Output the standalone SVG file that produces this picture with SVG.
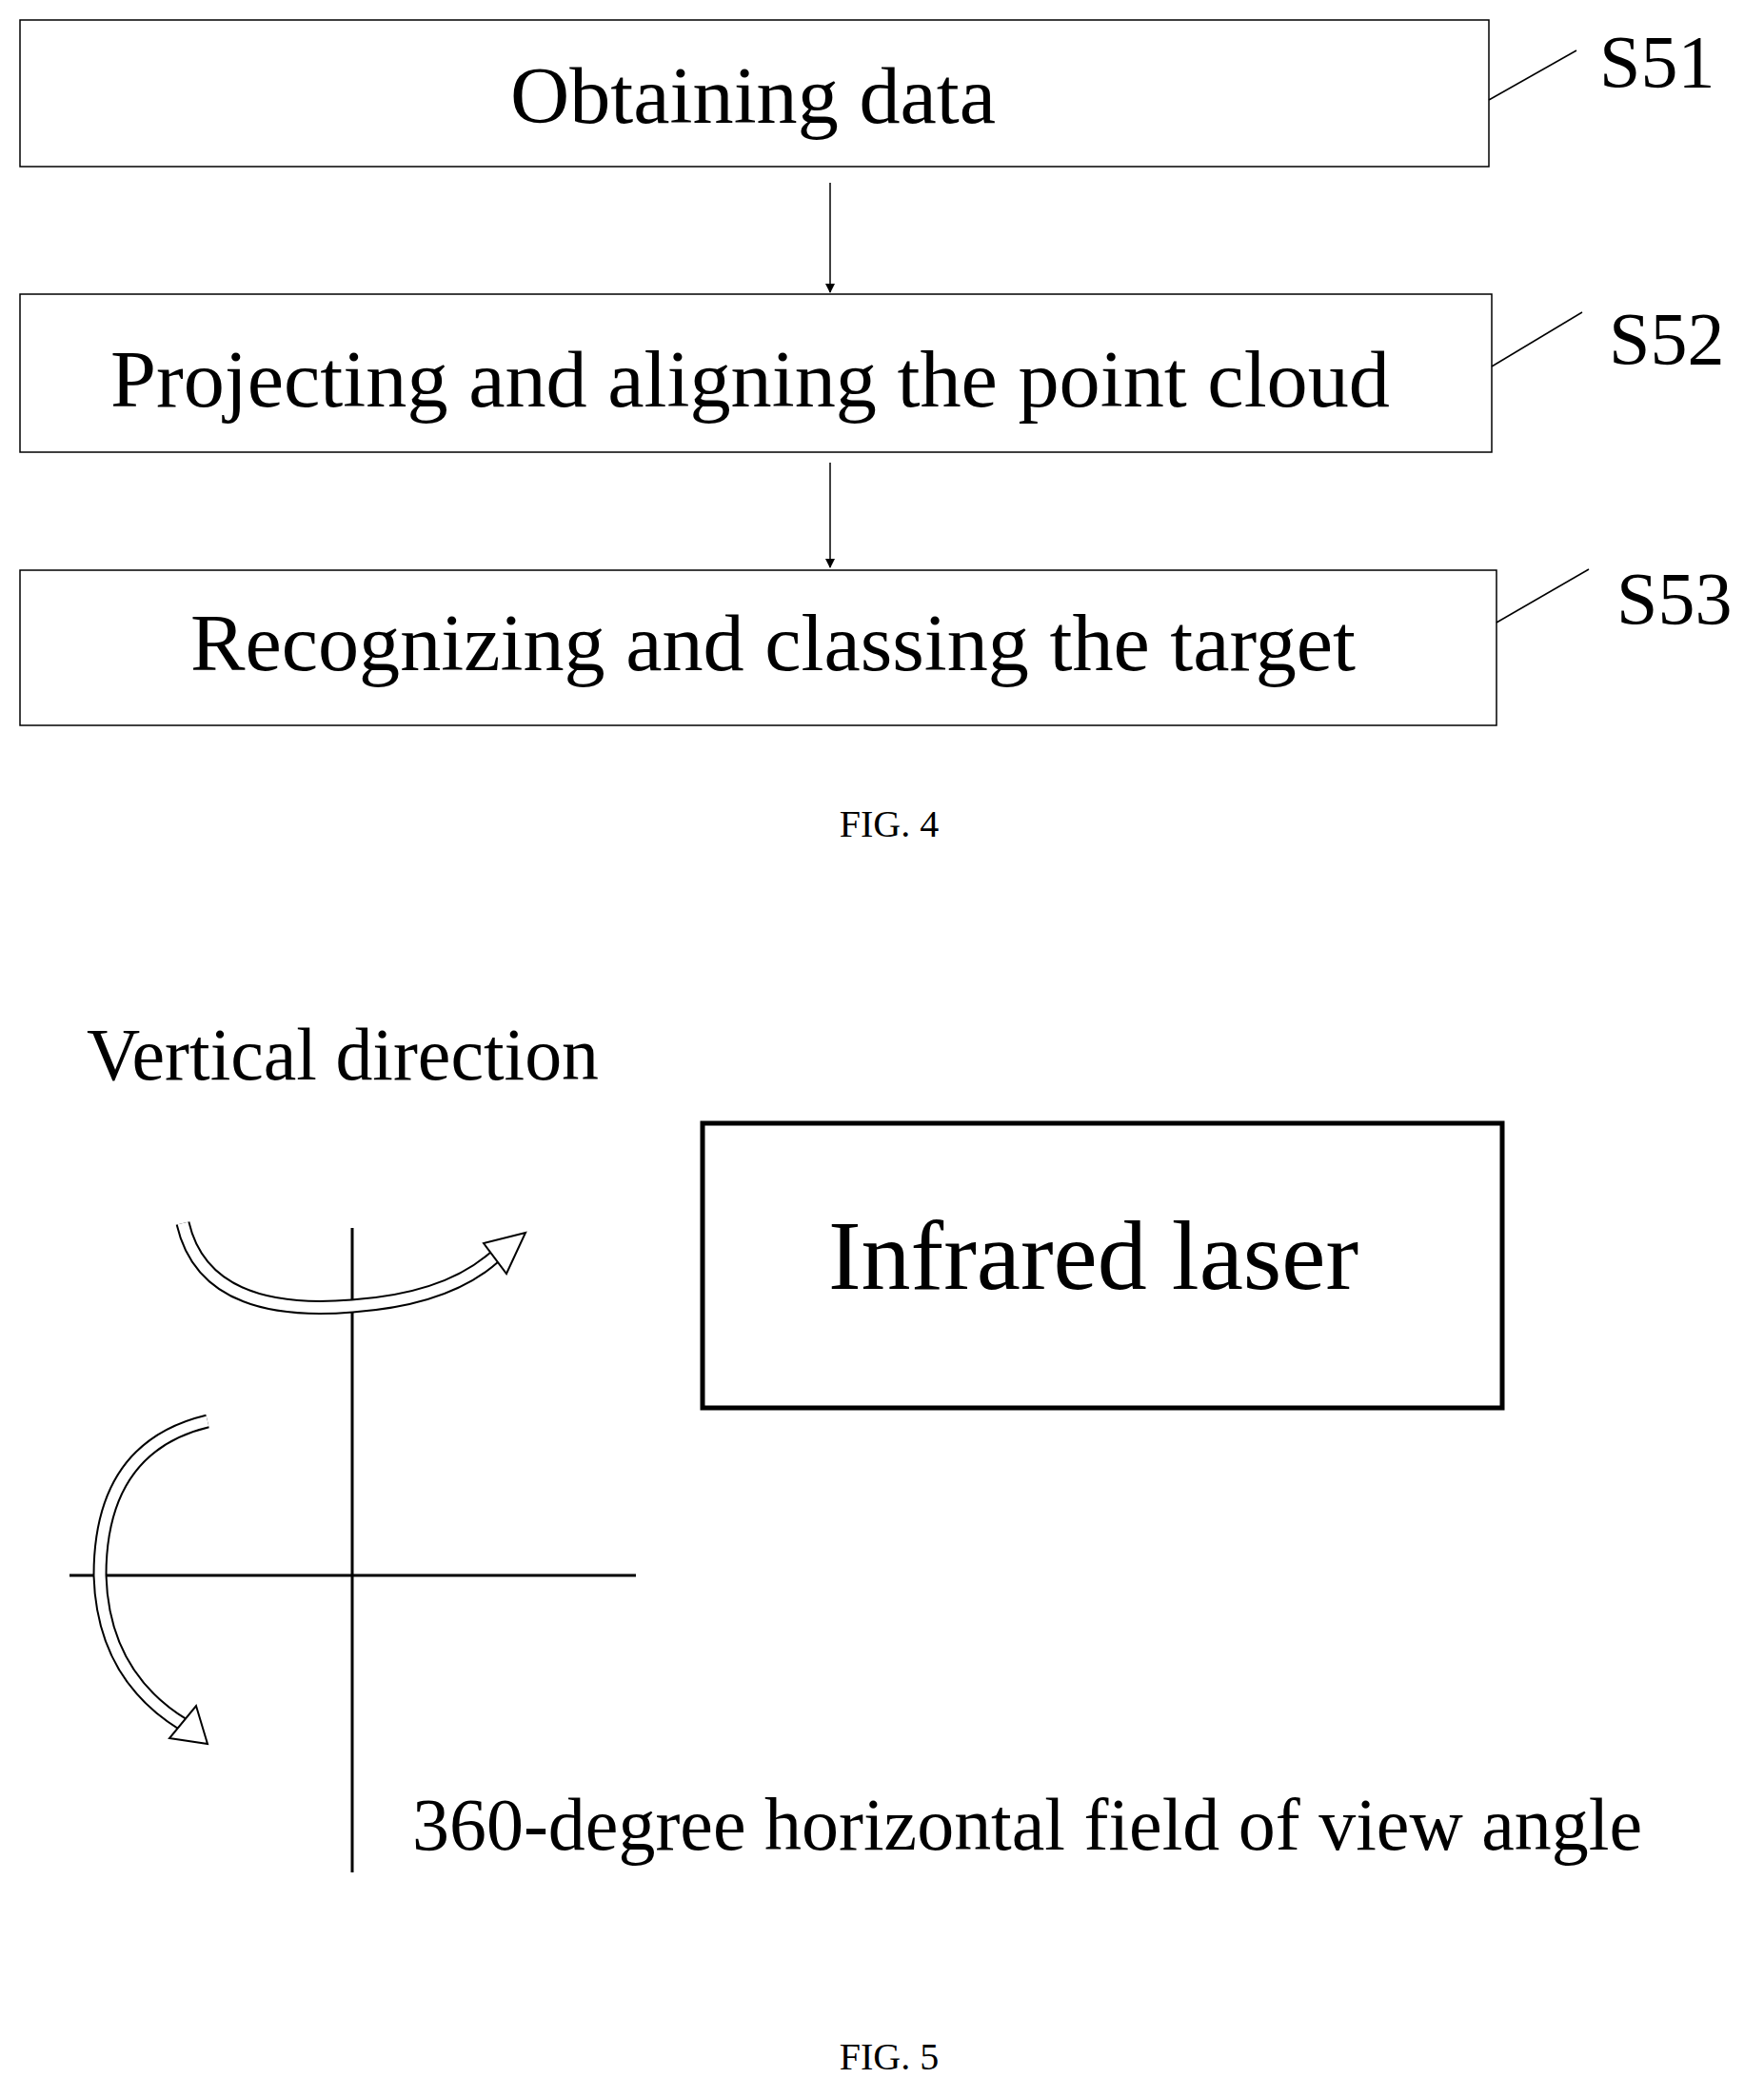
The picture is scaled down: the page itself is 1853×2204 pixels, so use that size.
<svg xmlns="http://www.w3.org/2000/svg" width="1853" height="2204" viewBox="0 0 1853 2204">
<style>
text{font-family:"Liberation Serif","Times New Roman",serif;fill:#000}
.box{fill:#fff;stroke:#000;stroke-width:1.5}
.lead{stroke:#000;stroke-width:1.5;fill:none}
.big{font-size:84px}
.lbl{font-size:78px}
.cap{font-size:40px;text-anchor:middle}
.ha{fill:none;stroke:#000;stroke-width:15}
.hi{fill:none;stroke:#fff;stroke-width:11}
.hh{fill:#fff;stroke:#000;stroke-width:2}
</style>
<defs><marker id="ah" markerWidth="10" markerHeight="10" refX="9" refY="5" orient="auto" markerUnits="userSpaceOnUse"><path d="M0,0 L10,5 L0,10 Z" fill="#000"/></marker></defs>
<rect width="1853" height="2204" fill="#fff"/>
<g id="connectors">
<line x1="872" y1="192" x2="872" y2="307" stroke="#000" stroke-width="1.5" marker-end="url(#ah)"/>
<line x1="872" y1="486" x2="872" y2="596" stroke="#000" stroke-width="1.5" marker-end="url(#ah)"/>
</g>
<g id="s51"><rect class="box" x="21" y="21" width="1543" height="154"/><text class="big" x="536" y="129" textLength="510" lengthAdjust="spacingAndGlyphs">Obtaining data</text>
<line class="lead" x1="1564" y1="105" x2="1656" y2="53"/><text class="lbl" x="1680" y="91">S51</text></g>
<g id="s52"><rect class="box" x="21" y="309" width="1546" height="166"/><text class="big" x="116" y="427" textLength="1344" lengthAdjust="spacingAndGlyphs">Projecting and aligning the point cloud</text>
<line class="lead" x1="1567" y1="385" x2="1662" y2="328"/><text class="lbl" x="1690" y="382">S52</text></g>
<g id="s53"><rect class="box" x="21" y="599" width="1551" height="163"/><text class="big" x="200" y="704" textLength="1224" lengthAdjust="spacingAndGlyphs">Recognizing and classing the target</text>
<line class="lead" x1="1572" y1="654" x2="1669" y2="598"/><text class="lbl" x="1698" y="655">S53</text></g>
<text class="cap" x="934" y="879">FIG. 4</text>
<g id="fig5">
<text class="lbl" x="91" y="1134" textLength="538" lengthAdjust="spacingAndGlyphs">Vertical direction</text>
<g id="laser"><rect x="738" y="1180" width="840" height="299" fill="#fff" stroke="#000" stroke-width="5"/>
<text x="870" y="1354" font-size="104" textLength="557" lengthAdjust="spacingAndGlyphs">Infrared laser</text></g>
<line x1="370" y1="1290" x2="370" y2="1967" stroke="#000" stroke-width="3"/>
<line x1="73" y1="1655" x2="668" y2="1655" stroke="#000" stroke-width="3"/>
<path class="ha" d="M192,1285 Q215,1385 370,1372 Q470,1365 520,1320"/>
<path class="hi" d="M192,1285 Q215,1385 370,1372 Q470,1365 520,1320"/>
<polygon class="hh" points="552,1295 508,1306 532,1338"/>
<path class="ha" d="M218,1493 Q105,1520 105,1655 Q108,1760 193,1812"/>
<path class="hi" d="M218,1493 Q105,1520 105,1655 Q108,1760 193,1812"/>
<polygon class="hh" points="218,1832 206,1792 178,1826"/>
<text x="433" y="1943" font-size="78" textLength="1292" lengthAdjust="spacingAndGlyphs">360-degree horizontal field of view angle</text>
<text class="cap" x="934" y="2174">FIG. 5</text>
</g>
</svg>
